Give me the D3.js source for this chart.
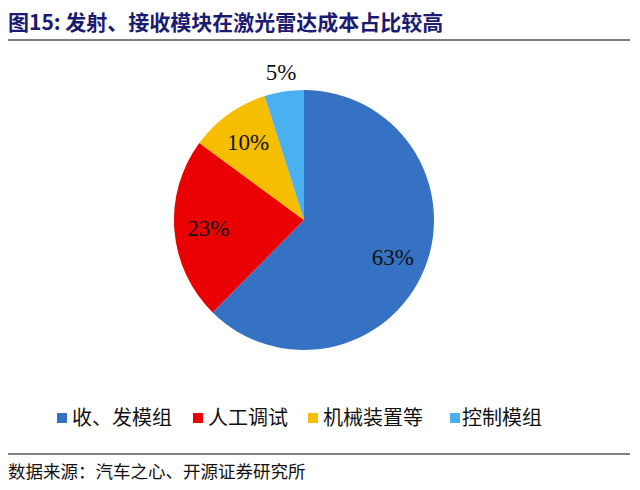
<!DOCTYPE html>
<html><head><meta charset="utf-8">
<script src="https://cdn.jsdelivr.net/npm/d3@7"></script>
<style>body{margin:0;background:#fff}</style>
</head><body>
<svg id="c" width="640" height="490"></svg>
<script>
const categories = ["收、发模组","人工调试","机械装置等","控制模组"];
const values = [62.4, 22.7, 10.0, 4.9];
const labels = ["63%","23%","10%","5%"];
const colors = ["#3572C4","#EA0000","#F5BF00","#4BB0F0"];
const titleText = "图15:  发射、接收模块在激光雷达成本占比较高";
const sourceText = "数据来源：汽车之心、开源证券研究所";

const svg = d3.select("#c");
const cx = 304, cy = 220, r = 130;

// title
svg.append("text").attr("x",8).attr("y",30)
  .attr("font-family","'Noto Sans CJK SC', sans-serif").attr("font-weight","bold")
  .attr("font-size",21).attr("fill","#1B1B72").text(titleText);
svg.append("line").attr("x1",8).attr("x2",630).attr("y1",40).attr("y2",40)
  .attr("stroke","#000").attr("stroke-width",1.2);

const data = categories.map((c,i)=>({cat:c,value:values[i],label:labels[i],color:colors[i]}));
const pie = d3.pie().sort(null).value(d=>d.value);
const arcs = pie(data);
const arc = d3.arc().innerRadius(0).outerRadius(r);
const g = svg.append("g").attr("transform",`translate(${cx},${cy})`);
g.selectAll("path").data(arcs).join("path").attr("d",arc).attr("fill",d=>d.data.color);

const inner = d3.arc().innerRadius(96).outerRadius(96);
const outer = d3.arc().innerRadius(150).outerRadius(150);
g.selectAll("text.lbl").data(arcs).join("text").attr("class","lbl")
  .attr("transform",(d,i)=>`translate(${(i===3?outer:inner).centroid(d)})`)
  .attr("text-anchor","middle").attr("dy","0.35em")
  .attr("font-family","'Liberation Serif', serif").attr("font-size",23)
  .attr("fill","#111").text(d=>d.data.label);

// legend
const legX = [57,193,308,450];
const legTX = [72,208,323,462];
const lg = svg.append("g");
data.forEach((d,i)=>{
  lg.append("rect").attr("x",legX[i]).attr("y",413).attr("width",10).attr("height",10).attr("fill",d.color);
  lg.append("text").attr("x",legTX[i]).attr("y",425)
    .attr("font-family","'Noto Sans CJK SC', sans-serif").attr("font-size",20)
    .attr("fill","#111").text(d.cat);
});

svg.append("line").attr("x1",8).attr("x2",630).attr("y1",454).attr("y2",454)
  .attr("stroke","#000").attr("stroke-width",1);
svg.append("text").attr("x",8).attr("y",478)
  .attr("font-family","'Noto Sans CJK SC', sans-serif").attr("font-size",17.5)
  .attr("fill","#111").text(sourceText);
</script>
</body></html>
